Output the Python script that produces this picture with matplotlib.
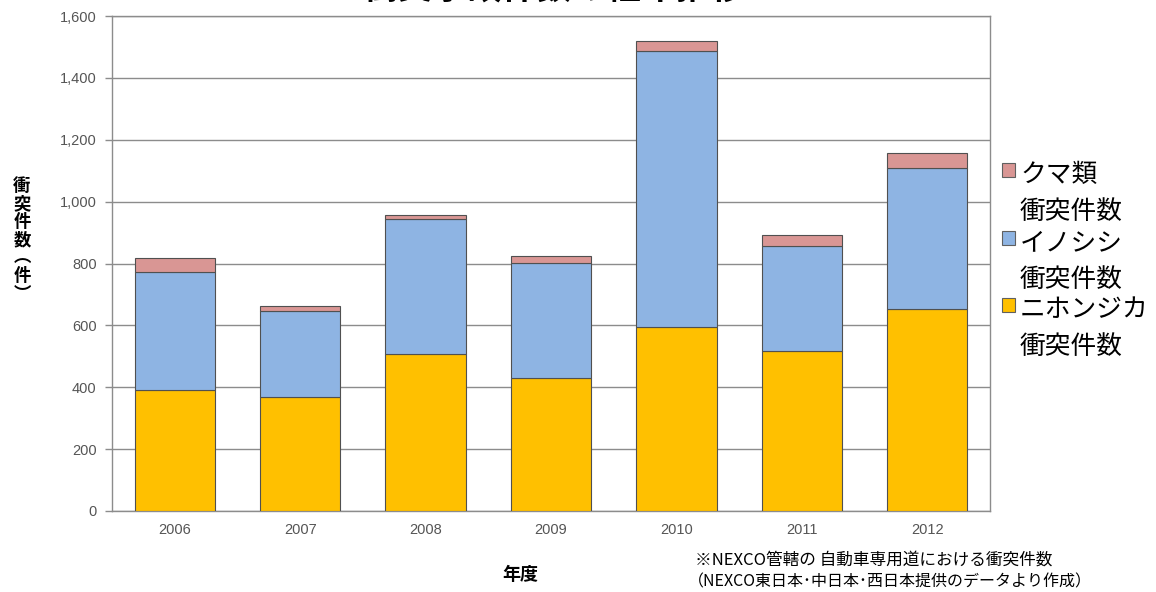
import matplotlib
matplotlib.use("Agg")
import matplotlib.pyplot as plt
from matplotlib.patches import Rectangle
from matplotlib.ticker import FuncFormatter

plt.rcParams['font.family'] = ['Noto Sans CJK JP', 'DejaVu Sans']

years = ['2006', '2007', '2008', '2009', '2010', '2011', '2012']
shika = [391, 369, 507, 430, 595, 517, 653]        # ニホンジカ
inoshishi = [381, 278, 437, 372, 892, 340, 456]    # イノシシ
kuma = [46, 16, 13, 22, 32, 35, 48]                # クマ類

series_names = ['クマ類', 'イノシシ', 'ニホンジカ']
colors = {'クマ類': '#D99694', 'イノシシ': '#8EB4E3', 'ニホンジカ': '#FFC000'}

title = '衝突事故件数の経年推移'
ylabel = '衝突件数（件）'
xlabel = '年度'
note1 = '※NEXCO管轄の 自動車専用道における衝突件数'
note2 = '（NEXCO東日本･中日本･西日本提供のデータより作成）'
yticks = [0, 200, 400, 600, 800, 1000, 1200, 1400, 1600]

W, H = 1156, 592
fig = plt.figure(figsize=(W / 100, H / 100), dpi=100)
ax = fig.add_axes([112 / W, 1 - 511 / H, (990 - 112) / W, (511 - 16) / H])

x = list(range(len(years)))
bw = 0.64
edge = '#505050'
ax.bar(x, shika, bw, color=colors['ニホンジカ'], edgecolor=edge, linewidth=0.8, zorder=3)
ax.bar(x, inoshishi, bw, bottom=shika, color=colors['イノシシ'], edgecolor=edge, linewidth=0.8, zorder=3)
bottom3 = [a + b for a, b in zip(shika, inoshishi)]
ax.bar(x, kuma, bw, bottom=bottom3, color=colors['クマ類'], edgecolor=edge, linewidth=0.8, zorder=3)

ax.set_xlim(-0.5, len(years) - 0.5)
ax.set_ylim(0, 1600)
ax.set_yticks(yticks)
ax.yaxis.set_major_formatter(FuncFormatter(lambda v, p: f'{int(v):,}'))
ax.set_xticks(x)
ax.set_xticklabels(years)
ax.grid(axis='y', color='#8c8c8c', linewidth=1.0, zorder=0)
ax.set_axisbelow(True)
for s in ax.spines.values():
    s.set_color('#8c8c8c')
    s.set_linewidth(1.0)
ax.tick_params(axis='y', colors='#8c8c8c', labelcolor='#555555', labelsize=10.5, length=5, width=1.0, pad=6)
ax.tick_params(axis='x', length=0, labelcolor='#555555', labelsize=10.5, pad=9)
for lab in ax.get_xticklabels() + ax.get_yticklabels():
    lab.set_fontfamily(['Liberation Sans', 'DejaVu Sans'])

# title (partly cut off at the top, as in the reference)
fig.text(555 / W, 1 + 11 / H, title, ha='center', va='center', fontsize=25, fontweight='bold')

# vertical y-label
vert = ylabel.replace('（', '︵').replace('）', '︶')
fig.text(22 / W, 1 - 240 / H, '\n'.join(vert), ha='center', va='center', fontsize=12.5,
         fontweight='bold', linespacing=1.0)

fig.text(520 / W, 1 - 575 / H, xlabel, ha='center', va='center', fontsize=13, fontweight='bold')

fig.text(695 / W, 1 - 560 / H, note1, ha='left', va='center', fontsize=12)
fig.text(688 / W, 1 - 582 / H, note2, ha='left', va='center', fontsize=11.5)

# legend (manual, square aligned with first line)
ys = [175, 243, 310]
for name, yc in zip(series_names, ys):
    fig.add_artist(Rectangle((1002 / W, 1 - (yc + 2) / H), 13 / W, 14 / H,
                             transform=fig.transFigure, facecolor=colors[name],
                             edgecolor='#606060', linewidth=0.8))
    fig.text(1020 / W, 1 - yc / H, name, ha='left', va='center', fontsize=18.5)
    fig.text(1020 / W, 1 - (yc + 37) / H, '衝突件数', ha='left', va='center', fontsize=18.5)

fig.savefig('out.png', dpi=100)
